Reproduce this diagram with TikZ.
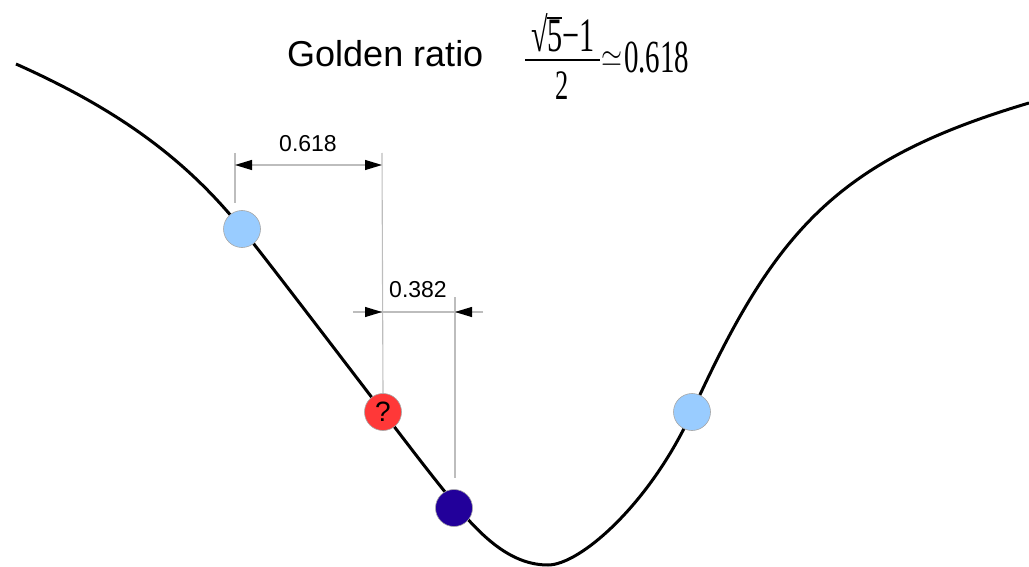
\documentclass[tikz,border=0pt]{standalone}
\usepackage{fontspec}
\usepackage{graphicx}
\setmainfont{Liberation Sans}
\newfontfamily\tms{Liberation Serif}
\usetikzlibrary{arrows.meta}
\definecolor{ballblue}{HTML}{99CCFF}
\definecolor{ballred}{HTML}{FF3838}
\definecolor{balldark}{HTML}{22009A}
\definecolor{dimgray}{HTML}{BDBDBD}
\newcommand{\cond}[1]{\scalebox{0.63}[1]{#1}}
\tikzset{
  curveline/.style={line width=3pt, black},
  ball/.style={circle, minimum size=37pt, inner sep=0pt, draw=gray!70, line width=0.6pt},
  dimline/.style={line width=1.1pt, dimgray},
  tip/.style={-{Triangle[length=17pt,width=10pt,color=black]}},
  dimlabel/.style={font=\fontsize{23}{23}\selectfont, inner sep=0pt},
}
\begin{document}
\begin{tikzpicture}[x=1pt,y=-1pt]
\useasboundingbox (0,0) rectangle (1029,567);
% curve
\coordinate (s) at (16,64);
\coordinate (pa) at (242,229);
\coordinate (pq) at (383,412);
\coordinate (pb) at (454,503);
\coordinate (m) at (548,565);
\coordinate (pc) at (692,412);
\coordinate (e) at (1029,103);
\draw[curveline] (s) .. controls (110,106) and (182,154) .. (pa)
  .. controls (272,266.5) and (353,373) .. (pq)
  .. controls (413,451) and (424,466) .. (pb)
  .. controls (484,540) and (513,565) .. (m)
  .. controls (580,565) and (650,504) .. (pc)
  .. controls (775,230) and (837,160) .. (e);
% points
\node[ball, fill=ballblue] (A) at (242,229) {};
\node[ball, fill=ballred, font=\fontsize{28}{28}\selectfont] (Q) at (383,412) {?};
\node[ball, fill=balldark] (B) at (454,508) {};
\node[ball, fill=ballblue] (C) at (692,412) {};
% dimension 0.618
\coordinate (e1t) at (235,153);
\coordinate (e1b) at (235,203);
\coordinate (e2t) at (382,153);
\draw[dimline] (e1t) -- (e1b);
\draw[dimline] (e2t) -- (Q.north);
\coordinate (d1l) at (235,165);
\coordinate (d1r) at (382,165);
\draw[dimline, {Triangle[length=17pt,width=10pt,color=black]}-{Triangle[length=17pt,width=10pt,color=black]}] (d1l) -- (d1r);
\node[dimlabel] (l618) at (308,144) {0.618};
% dimension 0.382
\coordinate (e3t) at (455,297);
\coordinate (e3b) at (455,478);
\draw[dimline] (e3t) -- (e3b);
\coordinate (d2a) at (353,312);
\coordinate (d2b) at (382,312);
\coordinate (d2c) at (455,312);
\coordinate (d2d) at (483,312);
\draw[dimline] (d2a) -- (d2d);
\draw[dimline, tip] (d2a) -- (d2b);
\draw[dimline, tip] (d2d) -- (d2c);
\node[dimlabel] (l382) at (418,290) {0.382};
% title
\node[anchor=base west, inner sep=0pt, font=\fontsize{36}{36}\selectfont] (title) at (287,67) {Golden ratio};
% formula
\node[anchor=base, inner sep=0pt] (num) at (563,52) {\cond{\fontsize{48}{48}\tms √\kern-0.04em\vbox{\hrule height 1.6pt\kern1.5pt\hbox{5}}−1}};
\draw[line width=1.6pt] (525,60) -- (600,60);
\node[anchor=base, inner sep=0pt] (den) at (562,100) {\cond{\fontsize{42}{42}\tms 2}};
\node[anchor=base west, inner sep=0pt] (sim) at (601,67) {\scalebox{2.7}[3.2]{$\simeq$}};
\node[anchor=base west, inner sep=0pt] (rhs) at (624,73) {\cond{\fontsize{46}{46}\tms 0.618}};
\end{tikzpicture}
\end{document}
